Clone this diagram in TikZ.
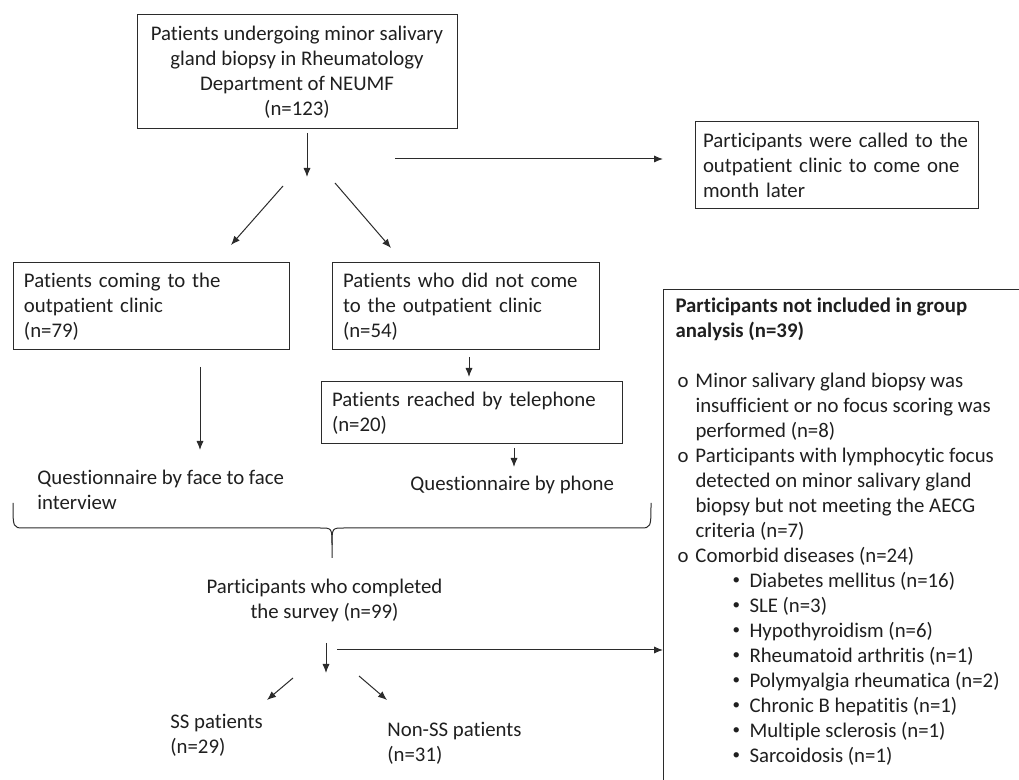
\documentclass[tikz,border=0pt]{standalone}
\usepackage{fontspec}
\setmainfont[Ligatures=NoCommon]{Carlito}
\usepackage{xcolor}
\definecolor{FlowInk}{HTML}{1F1F1F}
\definecolor{FlowEdge}{HTML}{2B2B2B}
\usepackage{tikz}
\usetikzlibrary{arrows.meta, positioning}
\newcommand{\ringitem}{\makebox[10pt][l]{\hspace{1pt}o}}
\newcommand{\ringgap}{\hspace*{10pt}}
\newcommand{\dotitem}{\hspace*{28.5pt}\makebox[8.5pt][l]{\raisebox{0.25ex}{\fontsize{7.5}{7.5}\selectfont\textbullet}}}

\begin{document}
\begin{tikzpicture}[x=0.5pt, y=-0.5pt,
  font=\fontsize{10.4}{12.5}\selectfont, text=FlowInk,
  box/.style={draw=FlowEdge, line width=0.5pt, align=left, inner xsep=5.5pt, inner ysep=2pt},
  plain/.style={inner sep=0pt, align=left},
  arr/.style={draw=FlowEdge, line width=0.5pt, -{Latex[length=4.5pt, width=3.6pt]}}]
\useasboundingbox (0,0) rectangle (1019,780);
% Enrolment and first split
\node[box, align=center, minimum width=160pt, minimum height=57pt] (enrol) at (297,72)
  {Patients undergoing minor salivary\\gland biopsy in Rheumatology\\Department of NEUMF\\(n=123)};
\node[box, text width=133.5pt, inner xsep=4pt, minimum height=43.5pt] (recall) at (836.5,165.5)
  {Participants were called to the\\outpatient clinic to come one\\month later};
\node[box, text width=127pt, minimum height=43.5pt] (clinic) at (151,306.5)
  {Patients coming to the\\outpatient clinic\\(n=79)};
\node[box, text width=122.5pt, minimum height=43.5pt] (absent) at (465.5,306.5)
  {Patients who did not come\\to the outpatient clinic\\(n=54)};
\node[box, text width=139.5pt, minimum height=31pt] (phone) at (471.5,413)
  {Patients reached by telephone\\(n=20)};
% Questionnaires
\node[plain, anchor=west] (faceq) at (37,490) {Questionnaire by face to face\\interview};
\node[plain, anchor=west] (phoneq) at (410,485) {Questionnaire by phone};
\node[plain, align=center] (survey) at (324.5,600.5) {Participants who completed\\the survey (n=99)};
\node[plain, anchor=west] (ss) at (170,735.5) {SS patients\\(n=29)};
\node[plain, anchor=west] (nonss) at (387,743) {Non-SS patients\\(n=31)};
% Exclusions
\node[draw=FlowEdge, line width=0.5pt, anchor=north west, inner xsep=6pt, inner ysep=4pt] (excl) at (663,289)
  {\parbox[c][242pt][t]{180pt}{%
  \textbf{Participants not included in group}\\
  \textbf{analysis (n=39)}\\[12.5pt]
  \ringitem Minor salivary gland biopsy was\\
  \ringgap insufficient or no focus scoring was\\
  \ringgap performed (n=8)\\
  \ringitem Participants with lymphocytic focus\\
  \ringgap detected on minor salivary gland\\
  \ringgap biopsy but not meeting the AECG\\
  \ringgap criteria (n=7)\\
  \ringitem Comorbid diseases (n=24)\\
  \dotitem Diabetes mellitus (n=16)\\
  \dotitem SLE (n=3)\\
  \dotitem Hypothyroidism (n=6)\\
  \dotitem Rheumatoid arthritis (n=1)\\
  \dotitem Polymyalgia rheumatica (n=2)\\
  \dotitem Chronic B hepatitis (n=1)\\
  \dotitem Multiple sclerosis (n=1)\\
  \dotitem Sarcoidosis (n=1)}};
% Free ends of the arrows
\coordinate (splitA) at (307,133);
\coordinate (splitB) at (307,177);
\coordinate (recallA) at (395,159);
\coordinate (recallB) at (663,159);
\coordinate (leftA) at (283,186);
\coordinate (leftB) at (231,245);
\coordinate (rightA) at (335,183);
\coordinate (rightB) at (391,248);
\coordinate (faceA) at (200,367);
\coordinate (faceB) at (200,450);
\coordinate (callA) at (469,357);
\coordinate (callB) at (469,377);
\coordinate (askA) at (514,448);
\coordinate (askB) at (514,467);
\coordinate (doneA) at (326,643);
\coordinate (doneB) at (326,673);
\coordinate (outA) at (337,650);
\coordinate (ssA) at (293,678);
\coordinate (ssB) at (267,700);
\coordinate (nonA) at (359,676);
\coordinate (nonB) at (387,700);
\draw[arr] (splitA) -- (splitB);
\draw[arr] (recallA) -- (recallB);
\draw[arr] (leftA) -- (leftB);
\draw[arr] (rightA) -- (rightB);
\draw[arr] (faceA) -- (faceB);
\draw[arr] (callA) -- (callB);
\draw[arr] (askA) -- (askB);
\draw[arr] (doneA) -- (doneB);
\draw[arr] (outA) -- (outA -| excl.west);
\draw[arr] (ssA) -- (ssB);
\draw[arr] (nonA) -- (nonB);
% Brace joining both questionnaires
\draw[FlowEdge, line width=0.5pt] (13,503) .. controls (13,528) .. (24,528) -- (320,528)
  .. controls (332,528) .. (332,545) -- (332,558);
\draw[FlowEdge, line width=0.5pt] (651,503) .. controls (651,528) .. (640,528) -- (344,528)
  .. controls (332,528) .. (332,545);
\end{tikzpicture}
\end{document}
